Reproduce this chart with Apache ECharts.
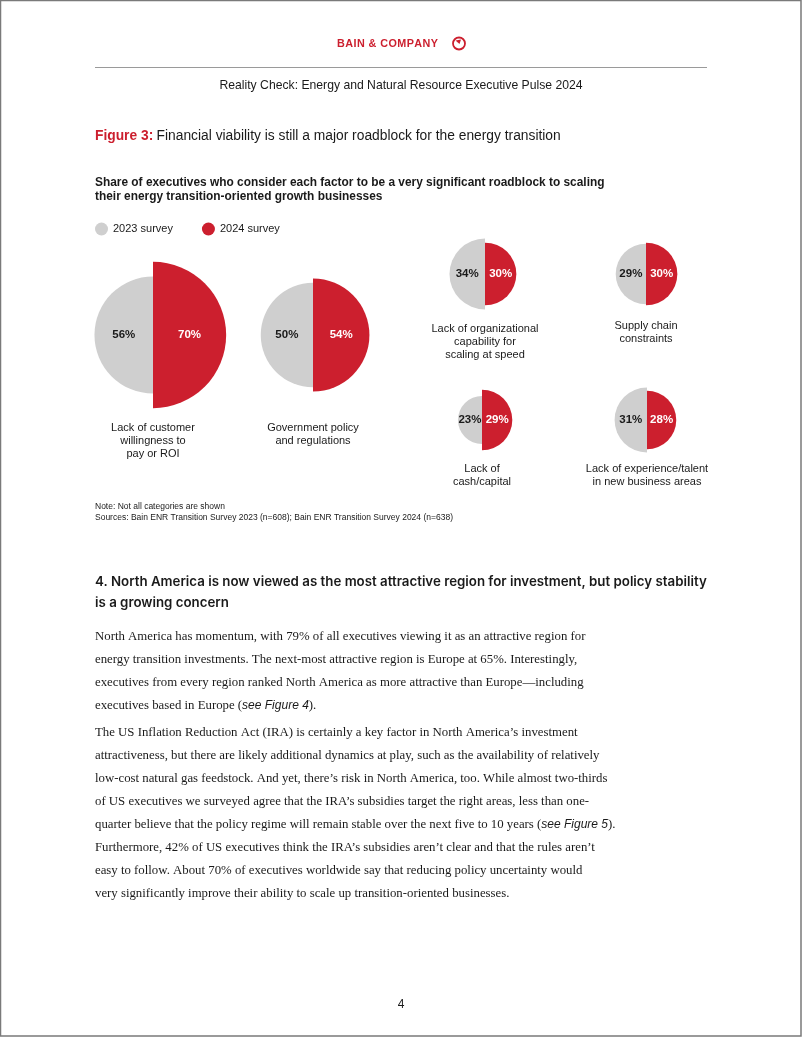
<!DOCTYPE html>
<html>
<head>
<meta charset="utf-8">
<script src="https://cdn.jsdelivr.net/npm/echarts@6/dist/echarts.min.js"></script>
<style>
html,body{margin:0;padding:0;background:#fff;}
#chart{width:802px;height:1037px;}
</style>
</head>
<body>
<div id="chart"></div>
<script>
// ---- data ----
const categories = [
  'Lack of customer\nwillingness to\npay or ROI',
  'Government policy\nand regulations',
  'Lack of organizational\ncapability for\nscaling at speed',
  'Supply chain\nconstraints',
  'Lack of\ncash/capital',
  'Lack of experience/talent\nin new business areas'
];
const v2023 = [56, 50, 34, 29, 23, 31];
const v2024 = [70, 54, 30, 30, 29, 28];
const seriesNames = ['2023 survey', '2024 survey'];

const headerTitle = 'Reality Check: Energy and Natural Resource Executive Pulse 2024';
const figureLabel = 'Figure 3:';
const figureTitle = 'Financial viability is still a major roadblock for the energy transition';
const chartSubtitle = ['Share of executives who consider each factor to be a very significant roadblock to scaling',
  'their energy transition-oriented growth businesses'];
const notes = ['Note: Not all categories are shown',
  'Sources: Bain ENR Transition Survey 2023 (n=608); Bain ENR Transition Survey 2024 (n=638)'];
const sectionHeading = ['4. North America is now viewed as the most attractive region for investment, but policy stability',
  'is a growing concern'];
const para1 = [
  'North America has momentum, with 79% of all executives viewing it as an attractive region for',
  'energy transition investments. The next-most attractive region is Europe at 65%. Interestingly,',
  'executives from every region ranked North America as more attractive than Europe\u2014including',
  'executives based in Europe ({i|see Figure 4}).'
];
const para2 = [
  'The US Inflation Reduction Act (IRA) is certainly a key factor in North America\u2019s investment',
  'attractiveness, but there are likely additional dynamics at play, such as the availability of relatively',
  'low-cost natural gas feedstock. And yet, there\u2019s risk in North America, too. While almost two-thirds',
  'of US executives we surveyed agree that the IRA\u2019s subsidies target the right areas, less than one-',
  'quarter believe that the policy regime will remain stable over the next five to 10 years ({i|see Figure 5}).',
  'Furthermore, 42% of US executives think the IRA\u2019s subsidies aren\u2019t clear and that the rules aren\u2019t',
  'easy to follow. About 70% of executives worldwide say that reducing policy uncertainty would',
  'very significantly improve their ability to scale up transition-oriented businesses.'
];
const pageNumber = '4';
const logoText = 'BAIN & COMPANY';

// ---- layout (positions / styles) ----
const centers = [[153, 335], [313, 335], [485, 274], [646, 274], [482, 420], [647, 420]];
const labelTops = [421, 421, 322, 319, 462, 462];
const RMAX = 100, RPIX = 104.5;
const GREY = '#cfcfcf', RED = '#cc1f2e', INK = '#1a1a1a';
const SANS = 'Liberation Sans, Arial, sans-serif';
const SERIF = 'Liberation Serif, serif';
const BODY = 12.8;

const chart = echarts.init(document.getElementById('chart'), null, {renderer: 'canvas'});

const polar = [], angleAxis = [], radiusAxis = [], series = [];
centers.forEach((c, i) => {
  polar.push({center: c, radius: RPIX});
  angleAxis.push({polarIndex: i, type: 'category', data: ['2024', '2023'], startAngle: 90, clockwise: true,
    boundaryGap: true, show: false});
  radiusAxis.push({polarIndex: i, type: 'value', min: 0, max: RMAX, show: false});
  series.push({
    type: 'bar', name: seriesNames[1], coordinateSystem: 'polar', polarIndex: i,
    data: [v2024[i], '-'], barCategoryGap: '0%', barGap: '-100%',
    itemStyle: {color: RED},
    label: {show: true, position: 'middle', rotate: 0, formatter: '{c}%', color: '#fff', fontWeight: 'bold',
      fontSize: 11.5, fontFamily: SANS}
  });
  series.push({
    type: 'bar', name: seriesNames[0], coordinateSystem: 'polar', polarIndex: i,
    data: ['-', v2023[i]], barCategoryGap: '0%', barGap: '-100%',
    itemStyle: {color: GREY},
    label: {show: true, position: 'middle', rotate: 0, formatter: '{c}%', color: INK, fontWeight: 'bold',
      fontSize: 11.5, fontFamily: SANS}
  });
});

const graphic = [];
// page border
graphic.push({type: 'rect', shape: {x: 0.5, y: 0.5, width: 800.5, height: 1035.5},
  style: {fill: 'none', stroke: '#7a7a7a', lineWidth: 1.5}, silent: true});
// logo (letter-spaced, fitted to span 337..438)
(function () {
  const font = 'bold 10.8px ' + SANS;
  const chars = logoText.split('');
  const widths = chars.map(ch => echarts.format.getTextRect ? echarts.format.getTextRect(ch, font).width : 7);
  const total = widths.reduce((a, b) => a + b, 0);
  const spacing = (101 - total) / (chars.length - 1);
  let x = 337;
  chars.forEach((ch, k) => {
    graphic.push({type: 'text', x: x, y: 44, style: {text: ch, font: font, fill: RED, verticalAlign: 'middle'}});
    x += widths[k] + spacing;
  });
})();
graphic.push({type: 'circle', shape: {cx: 459, cy: 43.5, r: 6}, style: {fill: 'none', stroke: RED, lineWidth: 1.8}});
graphic.push({type: 'polygon', shape: {points: [[459.5, 44], [455.5, 40.5], [461, 39.5]]}, style: {fill: RED}});
// rule
graphic.push({type: 'line', shape: {x1: 95, y1: 67.5, x2: 707, y2: 67.5}, style: {stroke: '#9a9a9a', lineWidth: 1}});
graphic.push({type: 'text', x: 401, y: 86, style: {text: headerTitle, font: '12.2px ' + SANS, fill: INK,
  align: 'center', verticalAlign: 'middle'}});
// figure title
graphic.push({type: 'text', x: 95, y: 136, style: {
  text: '{a|' + figureLabel + '} {b|' + figureTitle + '}', verticalAlign: 'middle',
  rich: {a: {font: 'bold 13.8px ' + SANS, fill: RED}, b: {font: '13.8px ' + SANS, fill: INK}}}});
// chart subtitle
chartSubtitle.forEach((t, k) => graphic.push({type: 'text', x: 95, y: 183 + k * 14, style: {
  text: t, font: 'bold 11.9px ' + SANS, fill: INK, verticalAlign: 'middle'}}));
// category names
categories.forEach((t, i) => graphic.push({type: 'text', x: centers[i][0], y: labelTops[i], style: {
  text: t, font: '11px ' + SANS, fill: INK, align: 'center', verticalAlign: 'top', lineHeight: 13}}));
// notes
notes.forEach((t, k) => graphic.push({type: 'text', x: 95, y: 507 + k * 11, style: {
  text: t, font: '8.5px ' + SANS, fill: INK, verticalAlign: 'middle'}}));
// section heading
sectionHeading.forEach((t, k) => graphic.push({type: 'text', x: 95, y: 582 + k * 21, style: {
  text: t, font: '600 13.3px Inter, sans-serif', fill: INK, verticalAlign: 'middle'}}));
// paragraphs
const bodyRich = {i: {font: 'italic ' + (BODY - 0.8) + 'px ' + SANS, fill: INK}};
para1.forEach((t, k) => graphic.push({type: 'text', x: 95, y: 637 + k * 23, style: {
  text: t, font: BODY + 'px ' + SERIF, fill: INK, verticalAlign: 'middle', rich: bodyRich}}));
para2.forEach((t, k) => graphic.push({type: 'text', x: 95, y: 733 + k * 23, style: {
  text: t, font: BODY + 'px ' + SERIF, fill: INK, verticalAlign: 'middle', rich: bodyRich}}));
graphic.push({type: 'text', x: 401, y: 1005, style: {text: pageNumber, font: '12px ' + SANS, fill: INK,
  align: 'center', verticalAlign: 'middle'}});

chart.setOption({
  animation: false,
  backgroundColor: '#fff',
  legend: {
    data: seriesNames, left: 95, top: 222.5, padding: 0, icon: 'circle', itemWidth: 13, itemHeight: 13, itemGap: 29,
    textStyle: {fontSize: 11, color: INK, fontFamily: SANS}, selectedMode: false
  },
  polar, angleAxis, radiusAxis, series,
  graphic
});
</script>
</body>
</html>
